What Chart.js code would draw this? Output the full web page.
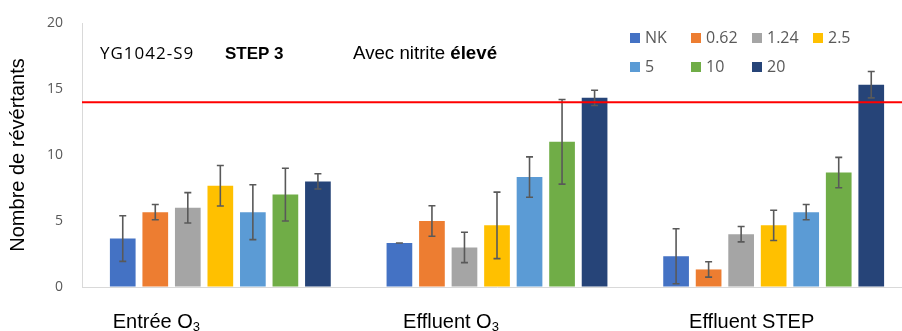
<!DOCTYPE html>
<html>
<head>
<meta charset="utf-8">
<script src="https://cdn.jsdelivr.net/npm/chart.js@4/dist/chart.umd.min.js"></script>
<style>
  html, body { margin: 0; padding: 0; background: #fff; overflow: hidden; }
  #wrap { position: relative; width: 912px; height: 331px; }
</style>
</head>
<body>
<div id="wrap"><canvas id="chart"></canvas></div>
<script>
// categories and concentrations
const categories = ["Entrée O₃", "Effluent O₃", "Effluent STEP"];
const doses = ["NK", "0.62", "1.24", "2.5", "5", "10", "20"];
const colors = ["#4472C4", "#ED7D31", "#A5A5A5", "#FFC000", "#5B9BD5", "#70AD47", "#264478"];

// mean revertants per dose (one array per dose, values for each category)
const nk   = [3.67, 3.33, 2.33];
const d062 = [5.67, 5.0, 1.33];
const d124 = [6.0, 3.0, 4.0];
const d25  = [7.67, 4.67, 4.67];
const d5   = [5.67, 8.33, 5.67];
const d10  = [7.0, 11.0, 8.67];
const d20  = [8.0, 14.33, 15.33];

// standard deviations
const nkErr   = [1.73, 0.0, 2.08];
const d062Err = [0.58, 1.15, 0.58];
const d124Err = [1.15, 1.15, 0.58];
const d25Err  = [1.53, 2.52, 1.15];
const d5Err   = [2.08, 1.53, 0.58];
const d10Err  = [2.0, 3.21, 1.15];
const d20Err  = [0.58, 0.58, 1.0];

const threshold = 14;
const yTicks = [0, 5, 10, 15, 20];

const means = [nk, d062, d124, d25, d5, d10, d20];
const errs = [nkErr, d062Err, d124Err, d25Err, d5Err, d10Err, d20Err];

// Error bars + threshold line
const errorBars = {
  id: "errorBars",
  afterDatasetsDraw(chart) {
    const ctx = chart.ctx, y = chart.scales.y;
    ctx.save();
    ctx.strokeStyle = "#595959";
    ctx.lineWidth = 1.6;
    chart.data.datasets.forEach((ds, i) => {
      chart.getDatasetMeta(i).data.forEach((bar, j) => {
        const e = ds.err[j];
        if (e == null) return;
        const top = y.getPixelForValue(ds.data[j] + e);
        const bot = y.getPixelForValue(ds.data[j] - e);
        ctx.beginPath();
        ctx.moveTo(bar.x, top); ctx.lineTo(bar.x, bot);
        ctx.moveTo(bar.x - 3.5, top); ctx.lineTo(bar.x + 3.5, top);
        ctx.moveTo(bar.x - 3.5, bot); ctx.lineTo(bar.x + 3.5, bot);
        ctx.stroke();
      });
    });
    // red limit line
    const ly = y.getPixelForValue(threshold);
    ctx.strokeStyle = "#ff0000";
    ctx.lineWidth = 2;
    ctx.beginPath();
    ctx.moveTo(chart.chartArea.left, ly);
    ctx.lineTo(chart.chartArea.right, ly);
    ctx.stroke();
    ctx.restore();
  }
};

// category labels (with subscript), legend grid, annotations
const labelShift = [-64, -46, -22];
const extras = {
  id: "extras",
  afterDraw(chart) {
    const ctx = chart.ctx, x = chart.scales.x;
    ctx.save();
    ctx.textBaseline = "alphabetic";
    ctx.fillStyle = "#000";
    categories.forEach((c, i) => {
      const parts = c.split("₃");
      const big = "20px 'Liberation Sans'", small = "13px 'Liberation Sans'";
      ctx.font = big;
      let w = ctx.measureText(parts[0]).width;
      let sw = 0;
      if (parts.length > 1) { ctx.font = small; sw = ctx.measureText("3").width; }
      let cx = x.getPixelForValue(i) + labelShift[i] - (w + sw) / 2;
      ctx.font = big;
      ctx.textAlign = "left";
      ctx.fillText(parts[0], cx, 328);
      if (parts.length > 1) {
        ctx.font = small;
        ctx.fillText("3", cx + w, 331);
      }
    });

    // legend
    ctx.font = "16px 'Open Sans'";
    ctx.textBaseline = "middle";
    chart.data.datasets.forEach((ds, i) => {
      const col = i % 4, row = Math.floor(i / 4);
      const bx = 630 + col * 61, by = 33 + row * 29;
      ctx.fillStyle = ds.backgroundColor;
      ctx.fillRect(bx, by, 10, 10);
      ctx.fillStyle = "#595959";
      ctx.fillText(ds.label, bx + 15, by + 5.5);
    });

    // annotations
    ctx.fillStyle = "#000";
    ctx.textBaseline = "alphabetic";
    ctx.font = "17px 'Open Sans'";
    ctx.letterSpacing = "1px";
    ctx.fillText("YG1042-S9", 100, 58.5);
    ctx.letterSpacing = "0px";
    ctx.font = "bold 17px 'Liberation Sans'";
    ctx.fillText("STEP 3", 225, 58.5);
    ctx.font = "18.7px 'Liberation Sans'";
    const a = "Avec nitrite ";
    ctx.fillText(a, 353, 58.5);
    const aw = ctx.measureText(a).width;
    ctx.font = "bold 18.7px 'Liberation Sans'";
    ctx.fillText("élevé", 353 + aw, 58.5);
    ctx.restore();
  }
};

new Chart(document.getElementById("chart"), {
  type: "bar",
  data: {
    labels: categories,
    datasets: doses.map((d, i) => ({
      label: d,
      data: means[i],
      err: errs[i],
      backgroundColor: colors[i],
      borderWidth: 0,
      categoryPercentage: 0.823,
      barPercentage: 0.79
    }))
  },
  options: {
    responsive: true,
    maintainAspectRatio: false,
    animation: false,
    layout: { padding: { top: 23, bottom: 44, left: 0, right: 0 } },
    plugins: { legend: { display: false }, tooltip: { enabled: false } },
    scales: {
      x: {
        grid: { display: false },
        border: { display: true, color: "#d9d9d9", width: 1 },
        ticks: { display: false },
        afterFit: s => { s.height = 0; }
      },
      y: {
        min: 0, max: 20,
        afterBuildTicks: s => { s.ticks = yTicks.map(v => ({ value: v })); },
        grid: { display: true, drawOnChartArea: false, drawTicks: false },
        border: { display: true, color: "#d9d9d9", width: 1 },
        ticks: { padding: 19, color: "#595959", font: { family: "Open Sans", size: 14 } },
        title: {
          display: true,
          text: "Nombre de révértants",
          color: "#000",
          font: { family: "Liberation Sans", size: 20 },
          padding: { top: 6, bottom: 0 }
        },
        afterFit: s => { s.width = 82; s.paddingTop = 0; s.paddingBottom = 0; }
      }
    }
  },
  plugins: [errorBars, extras]
});
</script>
</body>
</html>
